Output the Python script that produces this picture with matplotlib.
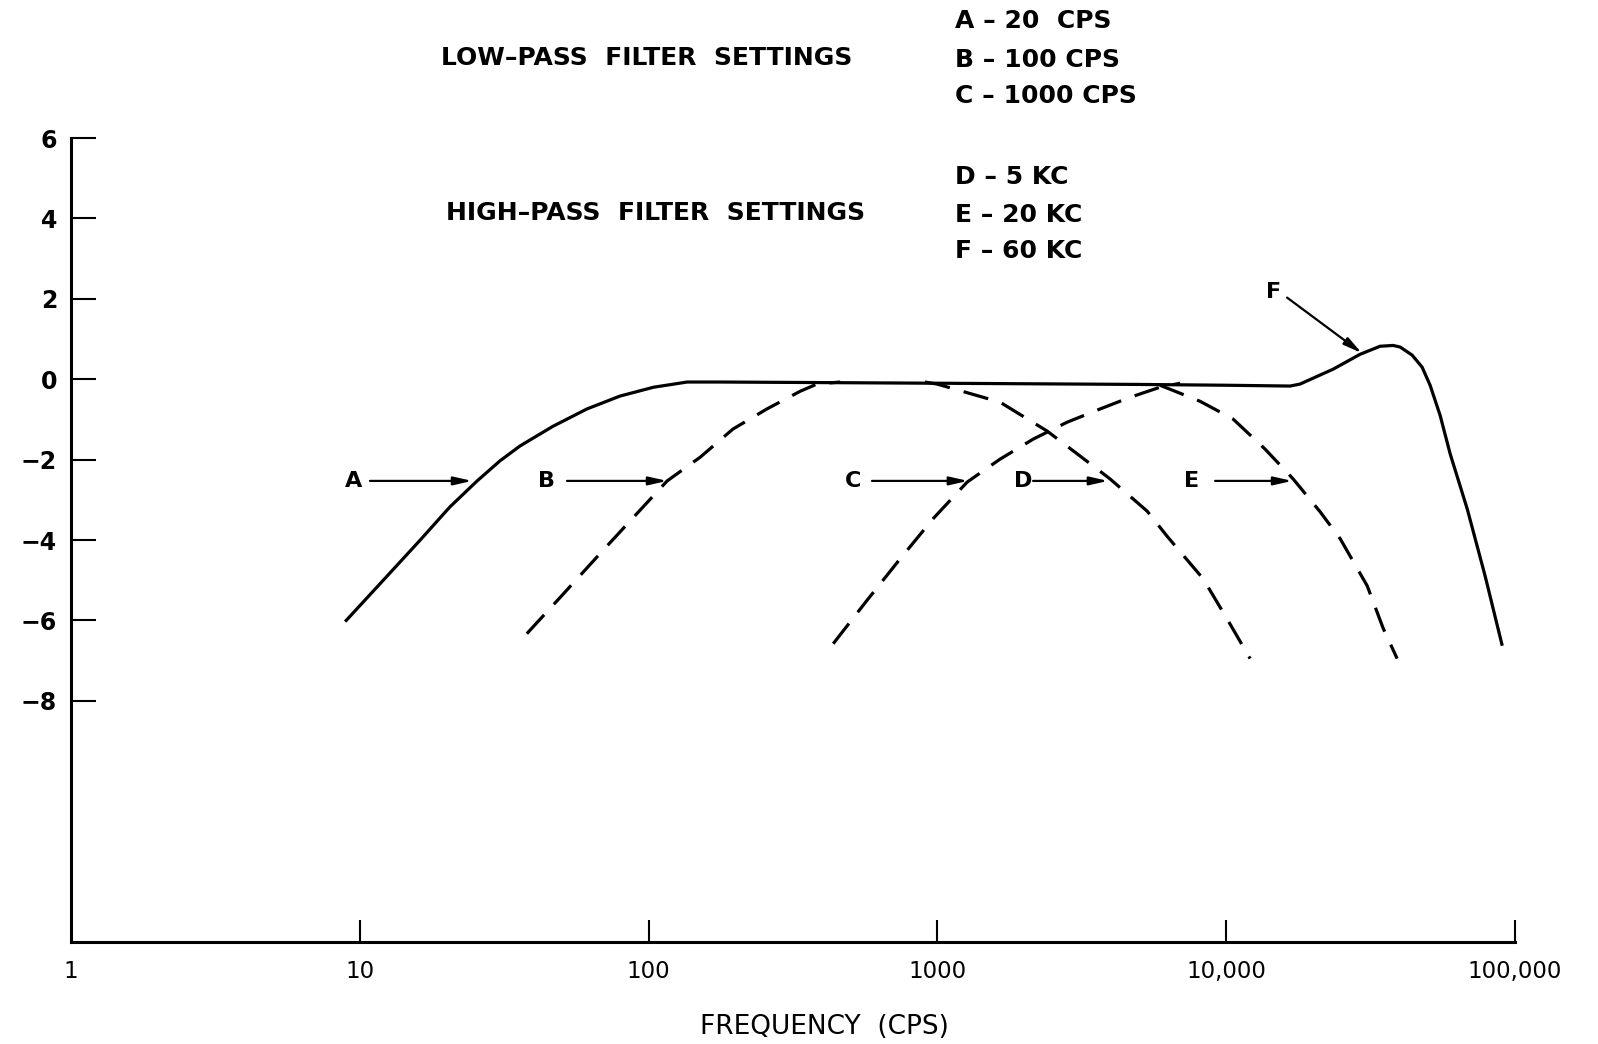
import numpy as np
import matplotlib.pyplot as plt

# solid curve: A (20 cps low cut) + flat band + F (60 kc high cut)
solid_f = [8.9, 11.75, 16.2, 20.5, 25.5, 30.6, 35.9, 46.7, 61.2, 79.6, 104, 136, 177,
           1000, 5000, 10000, 16670, 18040, 23480, 29100, 34130, 37870, 40060, 44060,
           47720, 50860, 55090, 59700, 68400, 78900, 90400]
solid_db = [-6.03, -5.09, -4.0, -3.18, -2.53, -2.03, -1.66, -1.17, -0.74, -0.42, -0.2, -0.07, -0.07,
            -0.1, -0.13, -0.15, -0.17, -0.12, 0.25, 0.62, 0.82, 0.84, 0.8, 0.6,
            0.3, -0.15, -0.9, -1.86, -3.23, -4.9, -6.63]

# dashed curves
b_f = [37.9, 49.4, 67.9, 88.3, 116, 151, 196, 257, 335, 383, 461]
b_db = [-6.33, -5.43, -4.34, -3.45, -2.53, -1.94, -1.24, -0.74, -0.3, -0.12, -0.07]

c_f = [436, 571, 743, 967, 1268, 1648, 2148, 2814, 3662, 4652, 5900, 6930]
c_db = [-6.58, -5.5, -4.47, -3.47, -2.56, -1.99, -1.49, -1.07, -0.74, -0.45, -0.2, -0.1]

d_f = [906, 997, 1648, 2400, 3120, 3963, 5325, 6237, 6930, 8320, 10070, 12110]
d_db = [-0.07, -0.12, -0.57, -1.29, -1.91, -2.48, -3.28, -3.9, -4.29, -4.96, -5.96, -6.95]

e_f = [5900, 6400, 8130, 10570, 13650, 17060, 21170, 24840, 30800, 35000, 39100]
e_db = [-0.15, -0.25, -0.55, -0.99, -1.74, -2.48, -3.3, -3.97, -5.14, -6.2, -6.95]

# curve labels and arrows (label x, arrow start, arrow end) at -2.53 dB
lab_names = ['A', 'B', 'C', 'D', 'E']
lab_x = [9.48, 44.5, 511, 1982, 7620]
arr_x0 = [10.85, 52.2, 594, 2146, 9160]
arr_x1 = [24.5, 116, 1277, 3900, 16930]
lab_y = -2.53

xticks = [1, 10, 100, 1000, 10000, 100000]
xticklabels = ['1', '10', '100', '1000', '10,000', '100,000']
yticks = [6, 4, 2, 0, -2, -4, -6, -8]
yticklabels = ['6', '4', '2', '0', '−2', '−4', '−6', '−8']

fig = plt.figure(figsize=(15.98, 10.44), dpi=100)
ax = fig.add_axes([0.0444, 0.0977, 0.9036, 0.7701])

ax.plot(solid_f, solid_db, color='black', lw=2.3, solid_capstyle='butt')
for f, db in [(b_f, b_db), (c_f, c_db), (d_f, d_db), (e_f, e_db)]:
    ax.plot(f, db, color='black', lw=2.3, linestyle=(0, (8, 4.5)), dash_capstyle='butt')

arrow = dict(arrowstyle='-|>,head_length=1.1,head_width=0.25', lw=1.6, color='black',
             shrinkA=0, shrinkB=0)
for name, lx, x0, x1 in zip(lab_names, lab_x, arr_x0, arr_x1):
    ax.text(lx, lab_y, name, ha='center', va='center', fontsize=16, fontweight='bold')
    ax.annotate('', xy=(x1, lab_y), xytext=(x0, lab_y), arrowprops=arrow)
ax.text(14550, 2.16, 'F', ha='center', va='center', fontsize=16, fontweight='bold')
ax.annotate('', xy=(29500, 0.65), xytext=(16260, 2.03), arrowprops=arrow)

ax.set_xscale('log')
ax.set_xlim(1, 100000)
ax.set_ylim(-14, 6)
ax.minorticks_off()
ax.set_xticks(xticks)
ax.set_xticklabels(xticklabels, fontsize=16.5)
ax.set_yticks(yticks)
ax.set_yticklabels(yticklabels, fontsize=17, fontweight='bold')
ax.tick_params(axis='x', direction='in', length=16, width=1.5, pad=13)
ax.tick_params(axis='y', direction='in', length=18, width=1.5, pad=10)
ax.xaxis.get_major_ticks()[0].tick1line.set_visible(False)
for s in ['top', 'right']:
    ax.spines[s].set_visible(False)
for s in ['left', 'bottom']:
    ax.spines[s].set_linewidth(2.2)

# header text
fig.text(0.276, 0.9444, 'LOW–PASS  FILTER  SETTINGS', fontsize=18, fontweight='bold', va='center')
fig.text(0.279, 0.796, 'HIGH–PASS  FILTER  SETTINGS', fontsize=18, fontweight='bold', va='center')
settings = ['A – 20  CPS', 'B – 100 CPS', 'C – 1000 CPS', 'D – 5 KC', 'E – 20 KC', 'F – 60 KC']
set_y = [0.980, 0.9425, 0.908, 0.8305, 0.794, 0.7596]
for t, y in zip(settings, set_y):
    fig.text(0.5976, y, t, fontsize=18, fontweight='bold', va='center')

fig.text(0.516, 0.0163, 'FREQUENCY  (CPS)', fontsize=19, ha='center', va='center')

fig.savefig('out.png', dpi=100)
